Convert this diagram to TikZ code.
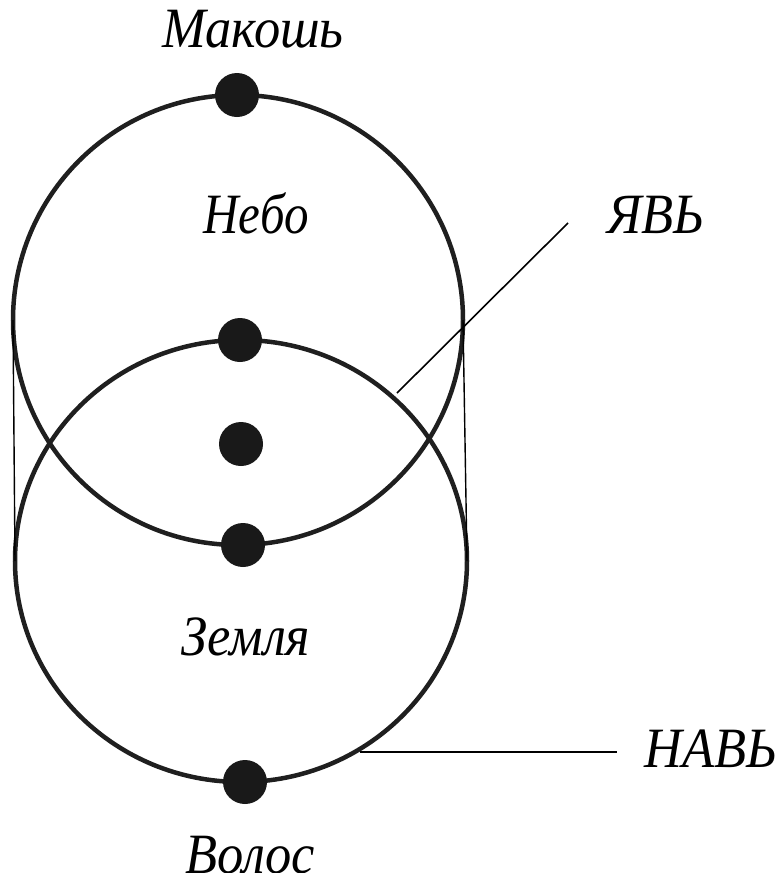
\documentclass[tikz,border=0pt]{standalone}
\usepackage{fontspec}
\usepackage{graphicx}
\setmainfont{Liberation Serif}
\newcommand{\narrowtxt}[1]{\scalebox{0.92}[1]{#1}}
\begin{document}
\begin{tikzpicture}[x=1pt,y=-1pt,
  ring/.style={line width=4.5pt, black!88},
  tangent/.style={line width=1.4pt},
  leader/.style={line width=1.6pt},
  bead/.style={circle, fill=black!90, inner sep=0pt, minimum size=44pt},
  lbl/.style={font=\fontsize{57}{60}\selectfont\itshape, inner sep=0pt, anchor=base}]
\useasboundingbox (0,0) rectangle (779,873);
% circles
\draw[ring] (238,320) circle [radius=225];
\draw[ring] (241,561) ellipse [x radius=226, y radius=221];
% tangent lines
\coordinate (tl1) at (13,320);
\coordinate (tl2) at (15,561);
\coordinate (tr1) at (463,320);
\coordinate (tr2) at (467,561);
\draw[tangent] (tl1) -- (tl2);
\draw[tangent] (tr1) -- (tr2);
% beads
\node[bead] (b1) at (237,95) {};
\node[bead] (b2) at (240,340) {};
\node[bead] (b3) at (241,444) {};
\node[bead] (b4) at (243,545) {};
\node[bead] (b5) at (245,782) {};
% labels
\node[lbl] (makosh) at (253,47) {\narrowtxt{Макошь}};
\node[lbl] (nebo) at (256,233) {\scalebox{0.86}[1]{Небо}};
\node[lbl] (zemlya) at (246,655) {\narrowtxt{Земля}};
\node[lbl] (volos) at (250,873) {\narrowtxt{Волос}};
\node[lbl] (yav) at (656,233) {\narrowtxt{ЯВЬ}};
\node[lbl] (nav) at (711,767) {\narrowtxt{НАВЬ}};
% leaders
\coordinate (yavstart) at (397,393);
\coordinate (yavend) at (568,223);
\draw[leader] (yavstart) -- (yavend);
\coordinate (navstart) at (360,752);
\coordinate (navend) at (617,752);
\draw[leader] (navstart) -- (navend);
\end{tikzpicture}
\end{document}
